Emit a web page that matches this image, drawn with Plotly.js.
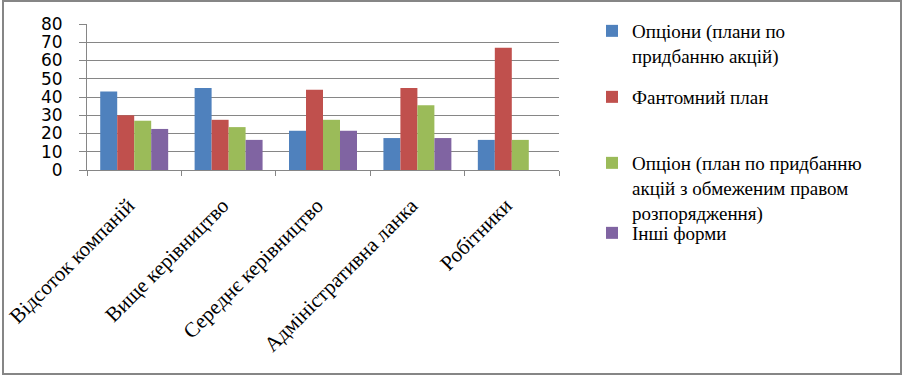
<!DOCTYPE html>
<html>
<head>
<meta charset="utf-8">
<script src="https://cdn.plot.ly/plotly-3.0.1.min.js"></script>
<style>
html,body{margin:0;padding:0;background:#fff;}
#wrap{position:relative;width:902px;height:375px;}
#chart{position:absolute;left:0;top:0;width:902px;height:375px;}
#frame{position:absolute;left:2px;top:0px;width:896px;height:371px;border:2px solid #868686;pointer-events:none;}
</style>
</head>
<body>
<div id="wrap"><div id="chart"></div><div id="frame"></div></div>
<script>
var categories = ['Відсоток компаній', 'Вище керівництво', 'Середнє керівництво', 'Адміністративна ланка', 'Робітники'];
var seriesNames = ['Опціони (плани по<br>придбанню акцій)', 'Фантомний план', 'Опціон (план по придбанню<br>акцій з обмеженим правом<br>розпорядження)', 'Інші форми'];
var options = [43, 45, 21.5, 17.5, 16.5];
var phantom = [30, 27.5, 44, 45, 67];
var restricted = [27, 23.5, 27.5, 35.5, 16.5];
var otherForms = [22.5, 16.5, 21.5, 17.5, null];
var yTicks = [0, 10, 20, 30, 40, 50, 60, 70, 80];

var colors = ['#4F81BD', '#C0504D', '#9BBB59', '#8064A2'];
var values = [options, phantom, restricted, otherForms];
var legendIds = ['legend', 'legend2', 'legend3', 'legend4'];

var W = 902, H = 375, mL = 87, mR = 343, mT = 24, mB = 205;
var pw = W - mL - mR, ph = H - mT - mB;
function px2x(p){ return (p - mL) / pw; }
function py2y(p){ return (H - mB - p) / ph; }

var serif = 'Liberation Serif';

var traces = values.map(function(v, i){
  return {
    type: 'bar', x: categories, y: v, name: seriesNames[i],
    marker: {color: colors[i], line: {width: 0}},
    legend: legendIds[i], hoverinfo: 'none'
  };
});

var legendTops = [12, 78, 144, 214];
function leg(i){
  return {
    x: px2x(592), y: py2y(legendTops[i]), xanchor: 'left', yanchor: 'top',
    bgcolor: 'rgba(0,0,0,0)', borderwidth: 0, valign: 'top',
    font: {family: serif, size: 19, color: '#000'}
  };
}

var layout = {
  width: W, height: H,
  font: {family: serif, size: 19, color: '#000'},
  margin: {l: mL, r: mR, t: mT, b: mB, pad: 0},
  paper_bgcolor: '#fff', plot_bgcolor: '#fff',
  barmode: 'group', bargap: 0.28, bargroupgap: 0,
  showlegend: true,
  xaxis: {
    type: 'category', tickangle: -45, tickson: 'boundaries',
    ticks: 'outside', ticklen: 5, tickcolor: '#868686', tickwidth: 1,
    showline: true, linecolor: '#868686', linewidth: 1,
    showgrid: false, zeroline: false,
    ticklabelstandoff: 14, ticklabelshift: -6,
    tickfont: {family: serif, size: 21, color: '#000'}
  },
  yaxis: {
    range: [0, 80], tickvals: yTicks, ticktext: yTicks.map(String),
    ticks: 'outside', ticklen: 7, tickcolor: '#868686', tickwidth: 1,
    showline: true, linecolor: '#868686', linewidth: 1,
    showgrid: true, gridcolor: '#868686', gridwidth: 1, zeroline: false,
    ticklabelstandoff: 13,
    tickfont: {family: 'DejaVu Sans', size: 17, color: '#000'}
  },
  legend: leg(0), legend2: leg(1), legend3: leg(2), legend4: leg(3)
};

Plotly.newPlot('chart', traces, layout, {displayModeBar: false, staticPlot: true});
</script>
</body>
</html>
